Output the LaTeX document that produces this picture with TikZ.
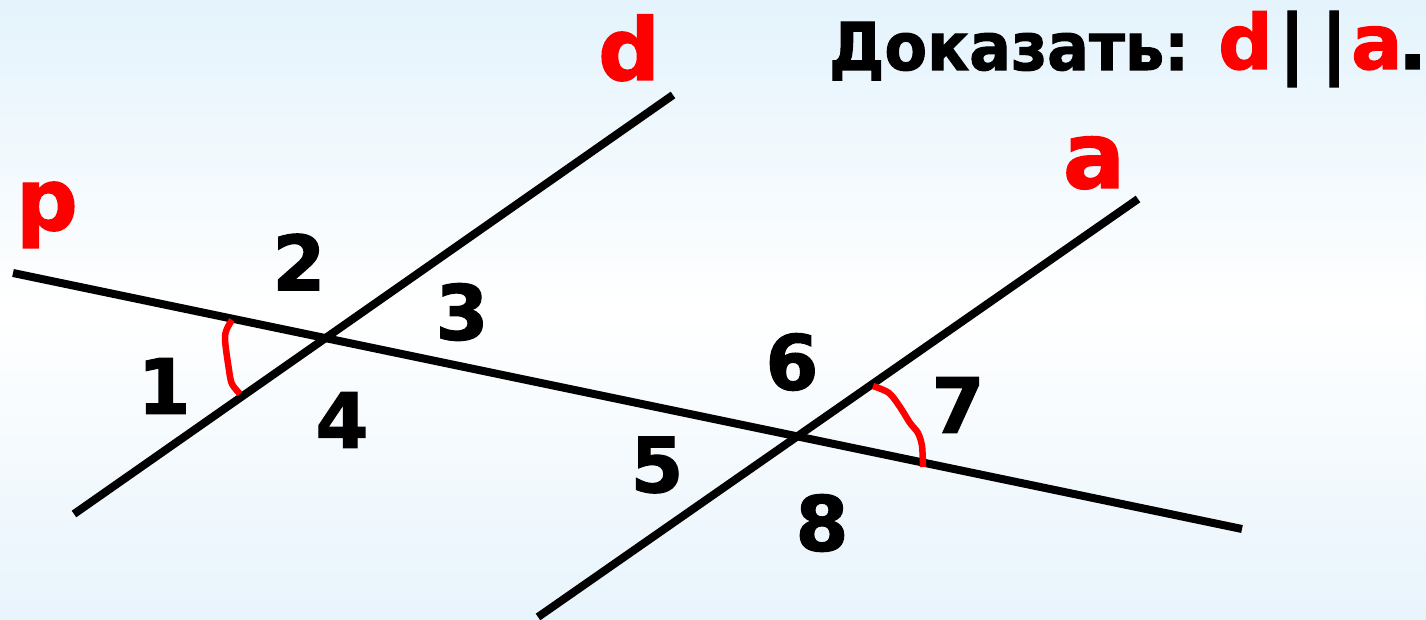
\documentclass[tikz,border=0pt]{standalone}
\usepackage{fontspec}
\setmainfont{DejaVu Sans}
\newfontfamily\heavy[FakeBold=1.6]{DejaVu Sans Bold}
\definecolor{bgtop}{RGB}{228,243,252}
\definecolor{bgbot}{RGB}{232,244,252}
\definecolor{myred}{RGB}{255,0,0}
\tikzset{
  line/.style={line width=8pt},
  arcred/.style={myred,line width=6.5pt,line join=round},
  num/.style={inner sep=0pt,font=\fontsize{76}{76}\selectfont\heavy},
  lett/.style={inner sep=0pt,text=myred,font=\fontsize{86}{86}\selectfont\heavy},
  ttl/.style={inner sep=0pt,anchor=base west,font=\fontsize{76}{76}\selectfont\heavy},
}
\begin{document}
\begin{tikzpicture}[x=1pt,y=-1pt]
\shade[top color=bgtop,bottom color=bgbot,middle color=white] (0,0) rectangle (1426,620);
\useasboundingbox (0,0) rectangle (1426,620);
\coordinate (p1) at (13,273);
\coordinate (p2) at (1242,529);
\coordinate (d1) at (74,514);
\coordinate (d2) at (673,95);
\coordinate (a1) at (538,617);
\coordinate (a2) at (1138,199);
\draw[line] (p1) -- (p2);
\draw[line] (d1) -- (d2);
\draw[line] (a1) -- (a2);
\draw[arcred] plot[smooth] coordinates {(232,320) (225,336) (229,370) (232,384) (240,394)};
\draw[arcred] plot[smooth] coordinates {(873,386) (889,393) (900,407) (910,423) (918,433) (922,446) (923,467)};
\node[num] (n1) at (164,386) {1};
\node[num] (n2) at (299,262) {2};
\node[num] (n3) at (462,312) {3};
\node[num] (n4) at (342,420) {4};
\node[num] (n5) at (657,465) {5};
\node[num] (n6) at (792,362) {6};
\node[num] (n7) at (958,405) {7};
\node[num] (n8) at (822,523) {8};
\node[lett,anchor=base] (ld) at (629,80) {d};
\node[lett,anchor=base] (lp) at (47,230) {p};
\node[lett,anchor=base,font=\fontsize{92}{92}\selectfont\heavy] (la) at (1094,188) {a};
\node[ttl,font=\fontsize{66}{66}\selectfont\heavy] (t1) at (829,70) {\scalebox{0.94}[1]{Доказать:}};
\node[ttl,text=myred] (t2) at (1218,69) {d};
\node[ttl] (t3) at (1278,69) {|};
\node[ttl] (t4) at (1320,69) {|};
\node[ttl,text=myred] (t5) at (1351,69) {a};
\node[ttl] (t6) at (1398,69) {\makebox[20pt][l]{.}};
\end{tikzpicture}
\end{document}
